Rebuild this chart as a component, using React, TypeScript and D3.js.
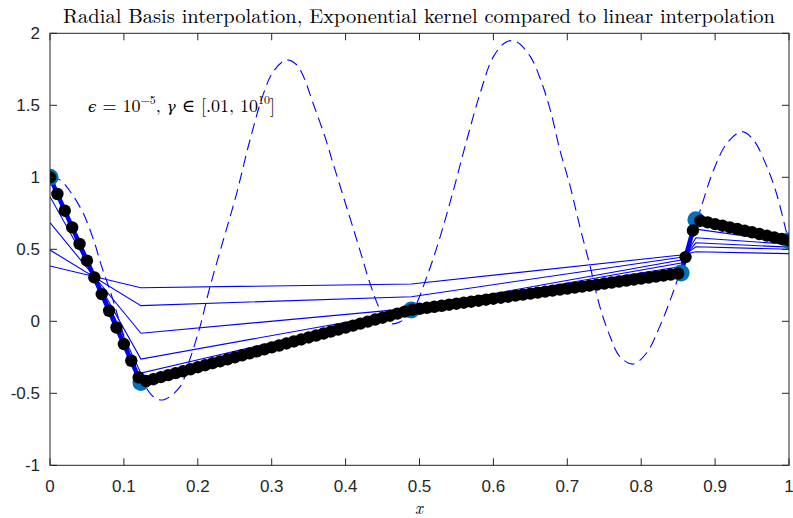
import React from "react";
import * as d3 from "d3";

// ---------- data ----------
const dataX = [0, 0.123, 0.489, 0.854, 0.874, 1.0];
const dataY = [1.0, -0.425, 0.079, 0.335, 0.705, 0.56];

// sample grid x = 0, 0.01, ..., 1.00
const sampleX = d3.range(0, 101).map((i) => i / 100);
const sampleY = [
  1.0, 0.884, 0.768, 0.652, 0.537, 0.421, 0.305, 0.189, 0.073, -0.043,
  -0.158, -0.274, -0.39, -0.415, -0.402, -0.388, -0.374, -0.36, -0.347, -0.333,
  -0.319, -0.305, -0.291, -0.278, -0.264, -0.25, -0.236, -0.223, -0.209, -0.195,
  -0.181, -0.168, -0.154, -0.14, -0.126, -0.112, -0.099, -0.085, -0.071, -0.057,
  -0.044, -0.03, -0.016, -0.002, 0.012, 0.025, 0.039, 0.053, 0.067, 0.08,
  0.087, 0.094, 0.101, 0.108, 0.115, 0.122, 0.129, 0.136, 0.143, 0.15,
  0.157, 0.164, 0.171, 0.178, 0.185, 0.192, 0.199, 0.206, 0.213, 0.22,
  0.227, 0.234, 0.241, 0.248, 0.255, 0.262, 0.269, 0.276, 0.283, 0.29,
  0.297, 0.304, 0.311, 0.318, 0.325, 0.332, 0.446, 0.631, 0.698, 0.687,
  0.675, 0.664, 0.652, 0.641, 0.629, 0.618, 0.606, 0.595, 0.583, 0.572,
  0.56,
];

// thin RBF curves, values at dataX
const rbfA = [0.384, 0.233, 0.259, 0.46, 0.483, 0.47];
const rbfB = [0.495, 0.109, 0.171, 0.445, 0.518, 0.5];
const rbfC = [0.685, -0.083, 0.09, 0.425, 0.545, 0.515];
const rbfD = [0.865, -0.262, 0.075, 0.405, 0.58, 0.535];
const rbfE = [0.98, -0.36, 0.079, 0.38, 0.64, 0.55];

// dashed (small gamma) curve
const dashX = [
  0, 0.0135, 0.029, 0.045, 0.059, 0.07, 0.0825, 0.0947, 0.108, 0.122, 0.14, 0.153,
  0.176, 0.189, 0.203, 0.2165, 0.2346, 0.2526, 0.2706, 0.289, 0.302, 0.32, 0.334,
  0.343, 0.356, 0.372, 0.383, 0.397, 0.411, 0.422, 0.433, 0.447, 0.46, 0.474,
  0.491, 0.51, 0.528, 0.546, 0.564, 0.582, 0.6, 0.618, 0.631, 0.65, 0.664, 0.677,
  0.69, 0.704, 0.717, 0.731, 0.744, 0.758, 0.771, 0.789, 0.807, 0.825, 0.841,
  0.852, 0.866, 0.88, 0.898, 0.916, 0.936, 0.952, 0.97, 0.983, 0.997, 1.0,
];
const dashY = [
  1.0, 0.982, 0.889, 0.75, 0.565, 0.38, 0.194, -0.014, -0.222, -0.385, -0.524, -0.546,
  -0.454, -0.269, -0.037, 0.24, 0.565, 0.889, 1.259, 1.583, 1.733, 1.815, 1.78,
  1.7, 1.514, 1.282, 1.097, 0.865, 0.634, 0.449, 0.264, 0.078, -0.014, -0.003,
  0.078, 0.31, 0.588, 0.912, 1.259, 1.583, 1.838, 1.942, 1.942, 1.838, 1.676, 1.467,
  1.19, 0.935, 0.657, 0.379, 0.102, -0.107, -0.245, -0.297, -0.222, -0.037, 0.171,
  0.333, 0.542, 0.773, 1.051, 1.236, 1.317, 1.259, 1.074, 0.889, 0.611, 0.56,
];

const xTicks = [0, 0.1, 0.2, 0.3, 0.4, 0.5, 0.6, 0.7, 0.8, 0.9, 1];
const xTickLabels = ["0", "0.1", "0.2", "0.3", "0.4", "0.5", "0.6", "0.7", "0.8", "0.9", "1"];
const yTicks = [-1, -0.5, 0, 0.5, 1, 1.5, 2];
const yTickLabels = ["-1", "-0.5", "0", "0.5", "1", "1.5", "2"];

const titleText = "Radial Basis interpolation, Exponential kernel compared to linear interpolation";

// ---------- layout ----------
const W = 793;
const H = 518;
const L = 50;
const R = 789;
const T = 33.3;
const B = 465.3;

export default function App() {
  const x = d3.scaleLinear().domain([0, 1]).range([L, R]);
  const y = d3.scaleLinear().domain([-1, 2]).range([B, T]);

  const poly = d3
    .line<[number, number]>()
    .x((d) => x(d[0]))
    .y((d) => y(d[1]));
  const smooth = d3
    .line<[number, number]>()
    .x((d) => x(d[0]))
    .y((d) => y(d[1]))
    .curve(d3.curveCatmullRom.alpha(0.5));

  const zip = (xs: number[], ys: number[]) => xs.map((v, i) => [v, ys[i]] as [number, number]);
  const thin = [rbfA, rbfB, rbfC, rbfD, rbfE];
  const axisColor = "#262626";
  const tickLen = 7;
  const sans = "'Liberation Sans', Arial, Helvetica, sans-serif";
  const serif = "'Latin Modern Roman', 'CMU Serif', 'Liberation Serif', 'DejaVu Serif', serif";

  return (
    <svg
      width={W}
      height={H}
      viewBox={`0 0 ${W} ${H}`}
      style={{ position: "absolute", left: 0, top: 0, background: "#fff" }}
    >
      <rect x={0} y={0} width={W} height={H} fill="#fff" />
      <defs>
        <clipPath id="plotclip">
          <rect x={L} y={T} width={R - L} height={B - T} />
        </clipPath>
      </defs>

      <g clipPath="url(#plotclip)">
        <path
          d={smooth(zip(dashX, dashY)) || ""}
          fill="none"
          stroke="#0000ff"
          strokeWidth={1.1}
          strokeDasharray="11,6"
        />
        {thin.map((vals, i) => (
          <path key={i} d={poly(zip(dataX, vals)) || ""} fill="none" stroke="#0000ff" strokeWidth={1.1} />
        ))}
        <path d={poly(zip(dataX, dataY)) || ""} fill="none" stroke="#0000ff" strokeWidth={4.5} />
        {dataX.map((v, i) => (
          <circle key={i} cx={x(v)} cy={y(dataY[i])} r={8.5} fill="#0072BD" />
        ))}
        {sampleX.map((v, i) => (
          <circle key={i} cx={x(v)} cy={y(sampleY[i])} r={6.2} fill="#000" />
        ))}
      </g>

      {/* axes box */}
      <rect x={L} y={T} width={R - L} height={B - T} fill="none" stroke={axisColor} strokeWidth={1} />
      {xTicks.map((t, i) => (
        <g key={i}>
          <line x1={x(t)} x2={x(t)} y1={B} y2={B - tickLen} stroke={axisColor} strokeWidth={1} />
          <line x1={x(t)} x2={x(t)} y1={T} y2={T + tickLen} stroke={axisColor} strokeWidth={1} />
          <text
            x={x(t)}
            y={492}
            textAnchor="middle"
            fontFamily={sans}
            fontSize={17}
            fill={axisColor}
          >
            {xTickLabels[i]}
          </text>
        </g>
      ))}
      {yTicks.map((t, i) => (
        <g key={i}>
          <line x1={L} x2={L + tickLen} y1={y(t)} y2={y(t)} stroke={axisColor} strokeWidth={1} />
          <line x1={R} x2={R - tickLen} y1={y(t)} y2={y(t)} stroke={axisColor} strokeWidth={1} />
          <text
            x={L - 10}
            y={y(t) + 6}
            textAnchor="end"
            fontFamily={sans}
            fontSize={17}
            fill={axisColor}
          >
            {yTickLabels[i]}
          </text>
        </g>
      ))}

      {/* title */}
      <text
        x={419}
        y={23}
        textAnchor="middle"
        fontFamily={serif}
        fontSize={20}
        fill="#000"
        textLength={712}
        lengthAdjust="spacingAndGlyphs"
      >
        {titleText}
      </text>

      {/* annotation */}
      <text x={88} y={112} fontFamily={serif} fontSize={18} fill="#000">
        <tspan fontStyle="italic" fontFamily="'DejaVu Serif', serif" fontSize={15}>ϵ</tspan>
        <tspan> = 10</tspan>
        <tspan dy={-8} fontSize={12}>−5</tspan>
        <tspan dy={8}>, </tspan>
        <tspan fontStyle="italic" fontFamily="'DejaVu Serif', serif" fontSize={15}>γ</tspan>
        <tspan> ∈ [.01, 10</tspan>
        <tspan dy={-8} fontSize={12}>10</tspan>
        <tspan dy={8}>]</tspan>
      </text>

      {/* x label */}
      <text x={419} y={514} textAnchor="middle" fontFamily={serif} fontSize={17} fontStyle="italic" fill="#000">
        x
      </text>
    </svg>
  );
}
